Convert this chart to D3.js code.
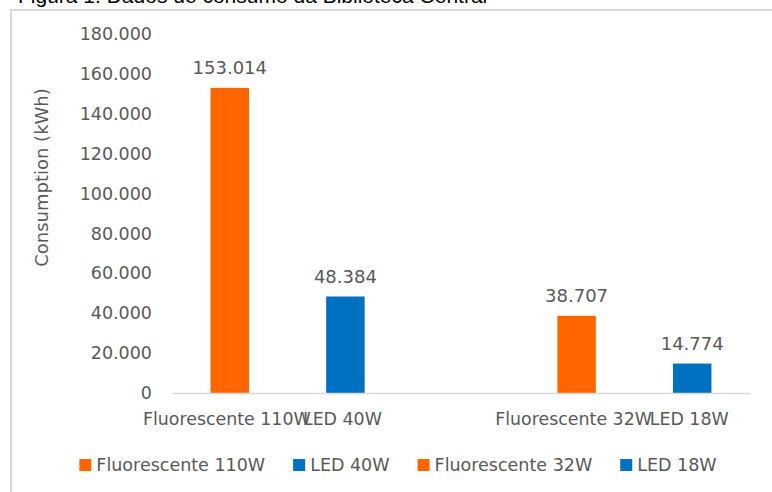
<!DOCTYPE html>
<html>
<head>
<meta charset="utf-8">
<script src="https://cdn.jsdelivr.net/npm/d3@7"></script>
<style>
  html, body { margin: 0; padding: 0; background: #ffffff; }
  svg { display: block; }
</style>
</head>
<body>
<svg id="chart" width="772" height="492"></svg>
<script>
// ---- data ----
const titleText = "Figura 1. Dados de consumo da Biblioteca Central";
const categories = ["Fluorescente 110W", "LED 40W", "", "Fluorescente 32W", "LED 18W"];
const values = [153014, 48384, null, 38707, 14774];
const barColors = ["#FF6600", "#0070C0", null, "#FF6600", "#0070C0"];
const legendLabels = ["Fluorescente 110W", "LED 40W", "Fluorescente 32W", "LED 18W"];
const legendColors = ["#FF6600", "#0070C0", "#FF6600", "#0070C0"];
const yTicks = [0, 20000, 40000, 60000, 80000, 100000, 120000, 140000, 160000, 180000];
const yTitle = "Consumption (kWh)";

// ---- setup ----
const W = 772, H = 492;
const svg = d3.select("#chart");
const FONT = "DejaVu Sans, sans-serif";
const GREY = "#595959";

const locale = d3.formatLocale({ decimal: ",", thousands: ".", grouping: [3], currency: ["", ""] });
const fmt = locale.format(",");

svg.append("rect").attr("width", W).attr("height", H).attr("fill", "#fff");

// figure caption (clipped at top, as in the reference)
svg.append("text")
  .attr("x", 18).attr("y", 2.5)
  .attr("font-family", "Liberation Sans, Arial, sans-serif")
  .attr("font-size", 21)
  .attr("fill", "#000")
  .text(titleText);

// chart frame
svg.append("path")
  .attr("d", `M${W + 2},10 H11 V${H + 2}`)
  .attr("fill", "none")
  .attr("stroke", "#d9d9d9")
  .attr("stroke-width", 2);

// scales
const x = d3.scaleBand()
  .domain(categories)
  .range([172, 750])
  .paddingInner(0.667)
  .paddingOuter(0.3335);

const y = d3.scaleLinear().domain([0, 180000]).range([393, 34]);

// y axis labels
const yAxis = svg.append("g")
  .attr("transform", "translate(152,0)")
  .call(d3.axisLeft(y).tickValues(yTicks).tickFormat(fmt).tickSize(0).tickPadding(0));
yAxis.select(".domain").remove();
yAxis.selectAll("text")
  .attr("font-family", FONT)
  .attr("font-size", 17.5)
  .attr("fill", GREY);

// y title
svg.append("text")
  .attr("transform", "translate(42,177.5) rotate(-90)")
  .attr("text-anchor", "middle")
  .attr("dy", "0.35em")
  .attr("font-family", FONT)
  .attr("font-size", 18)
  .attr("fill", GREY)
  .text(yTitle);

// bars
const data = categories.map((c, i) => ({ c, v: values[i], col: barColors[i] })).filter(d => d.v != null);

svg.append("g").selectAll("rect")
  .data(data)
  .join("rect")
  .attr("x", d => x(d.c))
  .attr("y", d => y(d.v))
  .attr("width", x.bandwidth())
  .attr("height", d => y(0) - y(d.v))
  .attr("fill", d => d.col);

// data labels
svg.append("g").selectAll("text")
  .data(data)
  .join("text")
  .attr("x", d => x(d.c) + x.bandwidth() / 2)
  .attr("y", d => y(d.v) - 14)
  .attr("text-anchor", "middle")
  .attr("font-family", FONT)
  .attr("font-size", 18)
  .attr("fill", GREY)
  .text(d => fmt(d.v));

// x axis
const xAxis = svg.append("g")
  .attr("transform", `translate(0,${y(0)})`)
  .call(d3.axisBottom(x).tickSize(0).tickPadding(20));
xAxis.select(".domain")
  .attr("stroke", "#d9d9d9")
  .attr("stroke-width", 1.5);
xAxis.selectAll("text")
  .attr("font-family", FONT)
  .attr("font-size", 17.4)
  .attr("fill", GREY)
  .attr("dx", -3);

// legend
const legend = svg.append("g");
const items = legend.selectAll("g")
  .data(legendLabels.map((l, i) => ({ l, col: legendColors[i] })))
  .join("g");
items.append("rect")
  .attr("width", 12).attr("height", 12)
  .attr("y", 459)
  .attr("fill", d => d.col);
items.append("text")
  .attr("x", 17)
  .attr("y", 471)
  .attr("font-family", FONT)
  .attr("font-size", 17.5)
  .attr("fill", GREY)
  .text(d => d.l);

const widths = [];
items.each(function () { widths.push(17 + d3.select(this).select("text").node().getComputedTextLength()); });
const gap = 28;
const total = d3.sum(widths) + gap * (widths.length - 1);
let cx = 398 - total / 2;
items.each(function (d, i) {
  d3.select(this).attr("transform", `translate(${cx},0)`);
  cx += widths[i] + gap;
});
</script>
</body>
</html>
